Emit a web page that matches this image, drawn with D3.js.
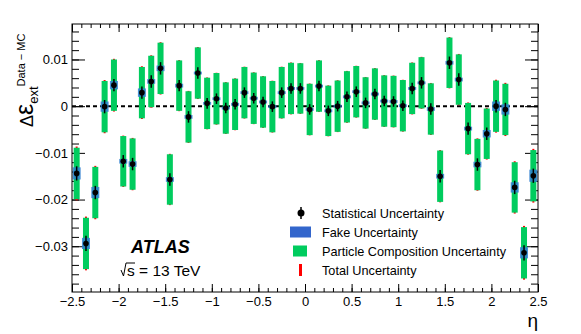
<!DOCTYPE html>
<html>
<head>
<meta charset="utf-8">
<script src="https://cdn.jsdelivr.net/npm/d3@7"></script>
<style>
  body { margin: 0; background: #fff; }
  svg { display: block; font-family: 'Liberation Sans', Arial, Helvetica, sans-serif; }
</style>
</head>
<body>
<svg id="chart" width="581" height="334"></svg>
<script>
// eta bin centres
const etaBins = [
  -2.45, -2.35, -2.25, -2.15, -2.05, -1.95, -1.85, -1.75, -1.65, -1.55,
  -1.45, -1.35, -1.25, -1.15, -1.05, -0.95, -0.85, -0.75, -0.65, -0.55,
  -0.45, -0.35, -0.25, -0.15, -0.05, 0.05, 0.15, 0.25, 0.35, 0.45,
  0.55, 0.65, 0.75, 0.85, 0.95, 1.05, 1.15, 1.25, 1.35, 1.45,
  1.55, 1.65, 1.75, 1.85, 1.95, 2.05, 2.15, 2.25, 2.35, 2.45
];
// central values of Delta eps (Data - MC)
const deltaEff = [
  -0.0144, -0.0294, -0.0185, -0.0001, 0.0045, -0.0118, -0.0124, 0.0029, 0.0053, 0.0081,
  -0.0157, 0.0044, -0.0023, 0.0071, 0.0006, 0.0016, -0.0004, 0.0004, 0.0029, 0.0017,
  0.0009, -0.0001, 0.0029, 0.0038, 0.0038, -0.0007, 0.0043, -0.0010, 0.0000, 0.0020,
  0.0031, 0.0007, 0.0026, 0.0011, 0.0010, 0.0001, 0.0038, 0.0050, -0.0006, -0.0150,
  0.0093, 0.0057, -0.0048, -0.0125, -0.0059, 0.0000, -0.0007, -0.0174, -0.0314, -0.0149
];
// statistical uncertainty
const statErr = [
  0.0011, 0.0012, 0.0010, 0.0010, 0.0009, 0.0009, 0.0009, 0.0009, 0.0009, 0.0009,
  0.0009, 0.0008, 0.0008, 0.0008, 0.0007, 0.0007, 0.0007, 0.0007, 0.0007, 0.0007,
  0.0007, 0.0007, 0.0007, 0.0007, 0.0007, 0.0007, 0.0007, 0.0007, 0.0007, 0.0007,
  0.0007, 0.0007, 0.0007, 0.0007, 0.0007, 0.0007, 0.0008, 0.0008, 0.0008, 0.0009,
  0.0009, 0.0009, 0.0009, 0.0009, 0.0009, 0.0009, 0.0010, 0.0010, 0.0012, 0.0011
];
// fake uncertainty
const fakeErr = [
  0.0013, 0.0012, 0.0012, 0.0011, 0.0009, 0.0005, 0.0006, 0.0009, 0.0005, 0.0006,
  0.0005, 0.0004, 0.0004, 0.0003, 0.0003, 0.0003, 0.0003, 0.0003, 0.0003, 0.0003,
  0.0003, 0.0003, 0.0003, 0.0003, 0.0003, 0.0003, 0.0003, 0.0003, 0.0003, 0.0003,
  0.0003, 0.0003, 0.0003, 0.0003, 0.0003, 0.0003, 0.0003, 0.0003, 0.0004, 0.0005,
  0.0004, 0.0004, 0.0004, 0.0006, 0.0008, 0.0010, 0.0011, 0.0011, 0.0012, 0.0013
];
// particle composition uncertainty
const compErr = [
  0.0055, 0.0055, 0.0055, 0.0055, 0.0055, 0.0054, 0.0055, 0.0055, 0.0055, 0.0055,
  0.0054, 0.0054, 0.0055, 0.0055, 0.0055, 0.0055, 0.0055, 0.0055, 0.0055, 0.0055,
  0.0055, 0.0055, 0.0055, 0.0055, 0.0054, 0.0055, 0.0055, 0.0054, 0.0055, 0.0055,
  0.0055, 0.0055, 0.0055, 0.0055, 0.0055, 0.0055, 0.0055, 0.0055, 0.0055, 0.0055,
  0.0054, 0.0054, 0.0055, 0.0055, 0.0054, 0.0055, 0.0055, 0.0054, 0.0055, 0.0055
];

const xMajor = [-2.5, -2, -1.5, -1, -0.5, 0, 0.5, 1, 1.5, 2, 2.5];
const xMajorLabels = ['\u22122.5', '\u22122', '\u22121.5', '\u22121', '\u22120.5', '0', '0.5', '1', '1.5', '2', '2.5'];
const yMajor = [-0.03, -0.02, -0.01, 0, 0.01];
const yMajorLabels = ['\u22120.03', '\u22120.02', '\u22120.01', '0', '0.01'];

const legendItems = ['Statistical Uncertainty', 'Fake Uncertainty', 'Particle Composition Uncertainty', 'Total Uncertainty'];

const GREEN = '#00cc5e';
const BLUE = '#3366cc';
const RED = '#ff0000';

const svg = d3.select('#chart');
const frame = { left: 72, right: 538, top: 24, bottom: 292 };

const x = d3.scaleLinear().domain([-2.5, 2.5]).range([frame.left, frame.right]);
const y = d3.scaleLinear().domain([-0.0398, 0.0176]).range([frame.bottom, frame.top]);

const points = etaBins.map((eta, i) => ({
  eta: eta,
  v: deltaEff[i],
  stat: statErr[i],
  fake: fakeErr[i],
  comp: compErr[i],
  total: Math.sqrt(statErr[i] ** 2 + fakeErr[i] ** 2 + compErr[i] ** 2)
}));

// minor tick positions
const xMinor = d3.range(-25, 26).map(d => d / 10);
const yMinor = d3.range(-19, 9).map(d => d * 0.002);

// --- axes (ticks inward, ROOT style)
function styleAxis(g) {
  g.select('.domain').remove();
  g.selectAll('.tick line').attr('stroke', '#000').attr('stroke-width', 1);
  g.selectAll('text').attr('fill', '#000').style('font-size', '13px');
}

svg.append('g').attr('transform', `translate(0,${frame.bottom})`)
  .call(d3.axisBottom(x).tickValues(xMinor).tickSize(-4).tickFormat(''))
  .call(styleAxis);
svg.append('g').attr('transform', `translate(0,${frame.bottom})`)
  .call(d3.axisBottom(x).tickValues(xMajor).tickSize(-8).tickPadding(5)
    .tickFormat((d, i) => xMajorLabels[i]))
  .call(styleAxis);
svg.append('g').attr('transform', `translate(0,${frame.top})`)
  .call(d3.axisTop(x).tickValues(xMinor).tickSize(-4).tickFormat(''))
  .call(styleAxis);
svg.append('g').attr('transform', `translate(0,${frame.top})`)
  .call(d3.axisTop(x).tickValues(xMajor).tickSize(-8).tickFormat(''))
  .call(styleAxis);

svg.append('g').attr('transform', `translate(${frame.left},0)`)
  .call(d3.axisLeft(y).tickValues(yMinor).tickSize(-7).tickFormat(''))
  .call(styleAxis);
svg.append('g').attr('transform', `translate(${frame.left},0)`)
  .call(d3.axisLeft(y).tickValues(yMajor).tickSize(-13).tickPadding(4)
    .tickFormat((d, i) => yMajorLabels[i]))
  .call(styleAxis);
svg.append('g').attr('transform', `translate(${frame.right},0)`)
  .call(d3.axisRight(y).tickValues(yMinor).tickSize(-7).tickFormat(''))
  .call(styleAxis);
svg.append('g').attr('transform', `translate(${frame.right},0)`)
  .call(d3.axisRight(y).tickValues(yMajor).tickSize(-13).tickFormat(''))
  .call(styleAxis);

// --- data layers
const plot = svg.append('g');

// zero line
plot.append('line')
  .attr('x1', frame.left).attr('x2', frame.right)
  .attr('y1', y(0)).attr('y2', y(0))
  .attr('stroke', '#000').attr('stroke-width', 2)
  .attr('stroke-dasharray', '4,3');

// total (red, mostly hidden behind green)
plot.selectAll('.tot').data(points).enter().append('rect')
  .attr('class', 'tot')
  .attr('x', d => x(d.eta) - 1)
  .attr('width', 2)
  .attr('y', d => y(d.v + d.total))
  .attr('height', d => y(d.v - d.total) - y(d.v + d.total))
  .attr('fill', RED);

// particle composition (green)
plot.selectAll('.comp').data(points).enter().append('rect')
  .attr('class', 'comp')
  .attr('x', d => x(d.eta) - 3)
  .attr('width', 6)
  .attr('y', d => y(d.v + d.comp))
  .attr('height', d => y(d.v - d.comp) - y(d.v + d.comp))
  .attr('fill', GREEN);

// fake (blue boxes)
plot.selectAll('.fake').data(points).enter().append('rect')
  .attr('class', 'fake')
  .attr('x', d => x(d.eta) - 4)
  .attr('width', 8)
  .attr('y', d => y(d.v + d.fake))
  .attr('height', d => y(d.v - d.fake) - y(d.v + d.fake))
  .attr('fill', '#2f7fd0').attr('fill-opacity', 0.85);

// statistical
plot.selectAll('.stat').data(points).enter().append('line')
  .attr('class', 'stat')
  .attr('x1', d => x(d.eta)).attr('x2', d => x(d.eta))
  .attr('y1', d => y(d.v + d.stat) - 2)
  .attr('y2', d => y(d.v - d.stat) + 2)
  .attr('stroke', '#000').attr('stroke-width', 1.5);

plot.selectAll('.pt').data(points).enter().append('circle')
  .attr('class', 'pt')
  .attr('cx', d => x(d.eta)).attr('cy', d => y(d.v))
  .attr('r', 2.8).attr('fill', '#000');

// redraw frame on top
svg.append('rect')
  .attr('x', frame.left).attr('y', frame.top)
  .attr('width', frame.right - frame.left).attr('height', frame.bottom - frame.top)
  .attr('fill', 'none').attr('stroke', '#000').attr('stroke-width', 1);

// --- axis titles
svg.append('text')
  .attr('x', frame.right).attr('y', 327)
  .attr('text-anchor', 'end')
  .style('font-size', '19px')
  .text('\u03b7');

const yt = svg.append('text')
  .attr('transform', 'translate(33,127) rotate(-90)');
yt.append('tspan').style('font-size', '18px').text('\u0394');
yt.append('tspan').style('font-size', '25px').text('\u03b5');
yt.append('tspan').attr('dy', 5).style('font-size', '13px').text('ext');
yt.append('tspan').attr('dy', -13).style('font-size', '11px').text('Data \u2212 MC');

// --- ATLAS label
svg.append('text')
  .attr('x', 131).attr('y', 253)
  .style('font-size', '18px').style('font-weight', 'bold').style('font-style', 'italic')
  .text('ATLAS');

const sx = 127;
svg.append('text')
  .attr('x', sx).attr('y', 276)
  .style('font-size', '15.5px')
  .text('s = 13 TeV');
svg.append('path')
  .attr('d', `M${sx - 6},270 L${sx - 3.5},276 L${sx - 1},263 L${sx + 8},263`)
  .attr('fill', 'none').attr('stroke', '#000').attr('stroke-width', 1);

// --- legend
const leg = svg.append('g');
const legY = [213, 232, 251, 270];
leg.append('line')
  .attr('x1', 301).attr('x2', 301).attr('y1', legY[0] - 6).attr('y2', legY[0] + 6)
  .attr('stroke', '#000').attr('stroke-width', 1.5);
leg.append('circle').attr('cx', 301).attr('cy', legY[0]).attr('r', 3.5).attr('fill', '#000');
leg.append('rect').attr('x', 290).attr('y', legY[1] - 5.5).attr('width', 21).attr('height', 11).attr('fill', BLUE);
leg.append('rect').attr('x', 293).attr('y', legY[2] - 5.5).attr('width', 14).attr('height', 11).attr('fill', GREEN);
leg.append('rect').attr('x', 299).attr('y', legY[3] - 6).attr('width', 3).attr('height', 12).attr('fill', RED);

leg.selectAll('.legtext').data(legendItems).enter().append('text')
  .attr('class', 'legtext')
  .attr('x', 322).attr('y', (d, i) => legY[i] + 4.5)
  .style('font-size', '12.7px')
  .text(d => d);
</script>
</body>
</html>
